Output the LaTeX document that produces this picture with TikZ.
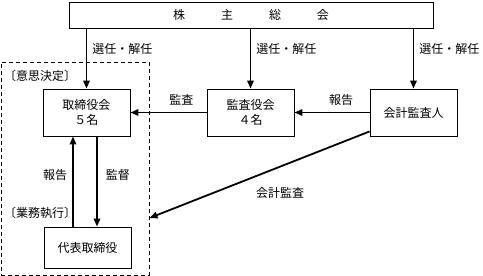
\documentclass[tikz,border=0pt]{standalone}
\usepackage{fontspec}
\setmainfont{Noto Sans CJK JP}
\usepackage{tikz}
\usetikzlibrary{arrows.meta,calc,positioning}

\begin{document}
\begin{tikzpicture}[x=1pt,y=-1pt,font=\fontsize{12}{14.5}\selectfont,
    line cap=butt,line join=miter,
    >={Triangle[length=8pt,width=6.5pt]},
    orgbox/.style={draw,line width=0.9pt,minimum width=87pt,minimum height=47pt,
      inner sep=0pt,align=center},
    flow/.style={->,line width=1.8pt},
    lab/.style={inner sep=1pt}]
\useasboundingbox (0,0) rectangle (483,276);

% shareholders meeting
\node[draw,line width=0.9pt,minimum width=364pt,minimum height=26pt,inner sep=0pt]
  (meeting) at (251,15) {株\hspace{36pt}主\hspace{36pt}総\hspace{36pt}会};

% decision area
\node[draw,dashed,line width=1pt,dash pattern=on 4pt off 3pt,
  minimum width=148pt,minimum height=213pt,inner sep=0pt] (decide) at (75,168.5) {};
\node[lab,anchor=west] (decidelab) at (3,76) {〔意思決定〕};
\node[lab,anchor=west] (execlab) at (3,213) {〔業務執行〕};

\node[orgbox] (board) at (86.5,112.5) {取締役会\\５名};
\node[orgbox] (kansa) at (250.5,112.5) {監査役会\\４名};
\node[orgbox] (auditor) at (413.5,112.5) {会計監査人};
\node[orgbox,minimum height=41pt] (ceo) at (87.5,247.5) {代表取締役};

% appointment
\foreach \tgt in {board,kansa,auditor} {
  \draw[flow] (meeting.south -| \tgt) -- (\tgt.north)
    node[lab,pos=0.34,anchor=west,xshift=4pt] {選任・解任};
}

\draw[flow] (kansa) -- (board) node[lab,pos=0.33,above=5pt] {監査};
\draw[flow] (auditor) -- (kansa) node[lab,pos=0.38,above=5pt] {報告};

% board and representative director
\draw[flow] ([xshift=-14.5pt]ceo.north) -- ([xshift=-14.5pt]ceo.north |- board.south)
  node[lab,pos=0.57,left=4pt] {報告};
\draw[flow] ([xshift=9.5pt]ceo.north |- board.south) -- ([xshift=9.5pt]ceo.north)
  node[lab,pos=0.43,right=7pt] {監督};

% accounting audit
\coordinate (auditend) at (decide.east |- 0,218);
\draw[flow] ([yshift=5pt]auditor.south west) -- (auditend);
\node[lab] (auditlab) at (280,193) {会計監査};
\end{tikzpicture}
\end{document}
